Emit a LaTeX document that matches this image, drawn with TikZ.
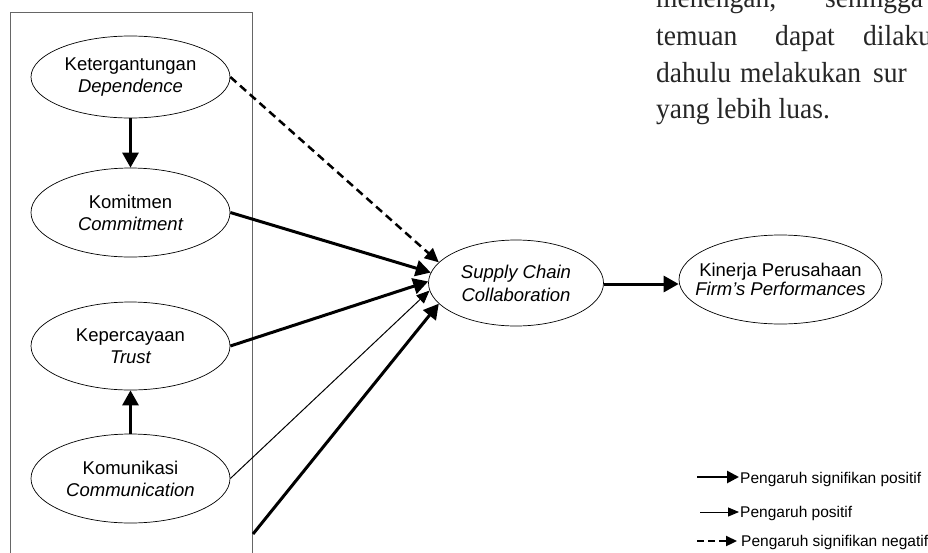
\documentclass[tikz,border=0pt]{standalone}
\usepackage{fontspec}
\setmainfont{Liberation Sans}
\newfontfamily\serifA[FakeStretch=0.95]{Liberation Serif}
\usetikzlibrary{shapes.geometric,arrows.meta}
\begin{document}
\begin{tikzpicture}[x=1pt,y=-1pt,
  ell/.style={ellipse,draw=black,line width=0.7pt,inner sep=0pt,align=center,
    font=\fontsize{18.5}{22}\selectfont},
  sigarr/.style={line width=3pt,-{Triangle[length=15pt,width=16pt]}},
  posarr/.style={line width=1pt,-{Triangle[length=13pt,width=11pt]}},
  negarr/.style={line width=2.5pt,dash pattern=on 8pt off 5pt,-{Triangle[length=14pt,width=13pt]}},
  lsig/.style={line width=2.6pt,-{Triangle[length=12pt,width=12pt]}},
  lpos/.style={line width=0.9pt,-{Triangle[length=11pt,width=9pt]}},
  lneg/.style={line width=2.2pt,dash pattern=on 7pt off 4pt,-{Triangle[length=11pt,width=10pt]}},
  legtxt/.style={anchor=base west,inner sep=0pt,font=\fontsize{15.5}{18}\selectfont},
  para/.style={anchor=base west,inner sep=0pt,text=black!85,font=\serifA\fontsize{29}{37}\selectfont},
  grpbox/.style={draw=black!60,line width=0.8pt}]
\useasboundingbox (0,0) rectangle (928,552);

% paragraph fragment (top right)
\node[para] (p1) at (656,7)   {\makebox[169pt][l]{menengah, }sehingga};
\node[para] (p2) at (656,45)  {\makebox[119pt][l]{temuan }\makebox[88pt][l]{dapat }dilaku};
\node[para] (p3) at (656,82)  {\makebox[84pt][l]{dahulu }\makebox[133pt][l]{melakukan }sur};
\node[para] (p4) at (656,118) {yang lebih luas.};

% group box
\draw[grpbox] (10,560) -- (10,12) -- (252,12) -- (252,560);
\coordinate (boxpt) at (253,534);

% ellipses
\node[ell,minimum width=199pt,minimum height=82pt] (dep) at (130.5,77)
  {\makebox[0pt]{Ketergantungan}\\\makebox[0pt]{\itshape Dependence}};
\node[ell,minimum width=199pt,minimum height=89pt] (com) at (130.5,212.5)
  {\makebox[0pt]{Komitmen}\\\makebox[0pt]{\itshape Commitment}};
\node[ell,minimum width=199pt,minimum height=88pt] (tru) at (130.5,346)
  {\makebox[0pt]{Kepercayaan}\\\makebox[0pt]{\itshape Trust}};
\node[ell,minimum width=199pt,minimum height=89pt] (cmu) at (130.5,478.5)
  {\makebox[0pt]{Komunikasi}\\\makebox[0pt]{\itshape Communication}};
\node[ell,minimum width=175pt,minimum height=86pt,font=\fontsize{18.5}{23}\selectfont] (scc) at (516,283)
  {\makebox[0pt]{\itshape Supply Chain}\\\makebox[0pt]{\itshape Collaboration}};
\node[ell,minimum width=203pt,minimum height=89pt,font=\fontsize{18.5}{19.5}\selectfont] (kin) at (780.5,279.5)
  {\makebox[0pt]{Kinerja Perusahaan}\\\makebox[0pt]{\itshape Firm’s Performances}};

% connectors
\draw[sigarr] (dep.south) -- (com.north);
\draw[sigarr] (cmu.north) -- (tru.south);
\draw[negarr] (dep.east) -- (scc.165);
\draw[sigarr] (com.east) -- (scc.173);
\draw[sigarr] (tru.east) -- (scc.179);
\draw[posarr] (cmu.east) -- (scc.185);
\draw[sigarr] (boxpt) -- (scc.195);
\draw[sigarr] ([yshift=-1pt]scc.east) -- ([yshift=-1pt]scc.east -| kin.west);

% legend
\coordinate (l1a) at (697,477); \coordinate (l1b) at (739,477);
\coordinate (l2a) at (700,512); \coordinate (l2b) at (739,512);
\coordinate (l3a) at (697,541); \coordinate (l3b) at (737,541);
\draw[lsig] (l1a) -- (l1b);
\draw[lpos] (l2a) -- (l2b);
\draw[lneg] (l3a) -- (l3b);
\node[legtxt] (t1) at (740,483) {Pengaruh signifikan positif};
\node[legtxt] (t2) at (740,517) {Pengaruh positif};
\node[legtxt] (t3) at (741,546) {Pengaruh signifikan negatif};
\end{tikzpicture}
\end{document}
